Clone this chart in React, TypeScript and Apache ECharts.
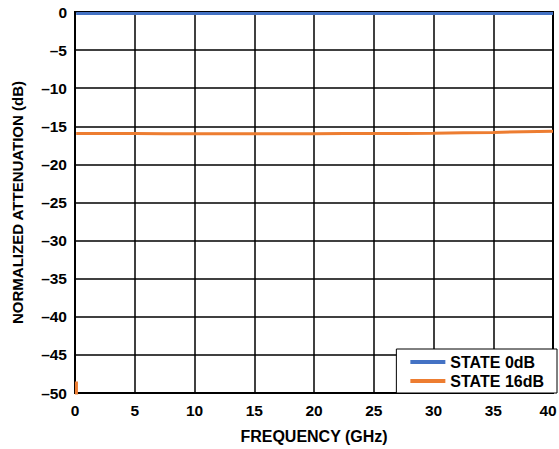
import React, { useEffect, useRef } from "react";
import * as echarts from "echarts";

const freqs = [0.1, 2.5, 5, 7.5, 10, 12.5, 15, 17.5, 20, 22.5, 25, 27.5, 30, 32.5, 35, 37.5, 40];
const state0 = [-0.2, -0.2, -0.2, -0.2, -0.2, -0.2, -0.2, -0.2, -0.2, -0.2, -0.2, -0.2, -0.2, -0.2, -0.2, -0.2, -0.2];
const state16 = [-15.95, -15.95, -15.95, -15.97, -15.98, -15.98, -15.98, -15.98, -15.97, -15.96, -15.95, -15.93, -15.9, -15.85, -15.8, -15.72, -15.65];
const lowFreqStub = [[0.12, -53], [0.12, -48.5]];
const xTicks = { min: 0, max: 40, interval: 5 };
const yTicks = { min: -50, max: 0, interval: 5 };

export default function App() {
  const ref = useRef<HTMLDivElement>(null);
  useEffect(() => {
    if (!ref.current) return;
    const chart = echarts.init(ref.current, null, { renderer: "svg" });
    const font = "Arial, 'Liberation Sans', sans-serif";
    const dash = (v: number) => String(v).replace("-", "\u2013");
    const labelStyle = { fontWeight: "bold", fontSize: 15.5, color: "#000", fontFamily: font };
    chart.setOption({
      animation: false,
      textStyle: { fontFamily: font },
      grid: {
        left: 75,
        right: 6,
        top: 12,
        bottom: 56,
        show: true,
        borderColor: "#000",
        borderWidth: 2,
        backgroundColor: "#fff",
        outerBoundsMode: "none",
        containLabel: false,
      },
      legend: {
        right: 2,
        bottom: 56,
        orient: "vertical",
        backgroundColor: "#fff",
        borderColor: "#000",
        borderWidth: 1,
        padding: [5, 13, 4, 14],
        itemGap: 3,
        itemWidth: 35,
        itemHeight: 4,
        icon: "rect",
        textStyle: { fontWeight: "bold", fontSize: 16, color: "#000", fontFamily: font },
        data: ["STATE 0dB", "STATE 16dB"],
      },
      xAxis: {
        type: "value",
        ...xTicks,
        name: "FREQUENCY (GHz)",
        nameLocation: "middle",
        nameGap: 35,
        nameTextStyle: { fontWeight: "bold", fontSize: 16, color: "#000", fontFamily: font },
        axisLine: { show: true, onZero: false, lineStyle: { color: "#000", width: 2 } },
        axisTick: { show: false },
        axisLabel: {
          ...labelStyle,
          margin: 9,
          formatter: (v: number) => (v === xTicks.max ? "{m|" + v + "}" : String(v)),
          rich: { m: { ...labelStyle, padding: [0, 10, 0, 0] } },
        },
        splitLine: { show: true, lineStyle: { color: "#000", width: 1.5 } },
      },
      yAxis: {
        type: "value",
        ...yTicks,
        name: "NORMALIZED ATTENUATION (dB)",
        nameLocation: "middle",
        nameGap: 50,
        nameTextStyle: { fontWeight: "bold", fontSize: 15, color: "#000", fontFamily: font },
        axisLine: { show: true, onZero: false, lineStyle: { color: "#000", width: 2 } },
        axisTick: { show: false },
        axisLabel: { ...labelStyle, margin: 8, formatter: dash },
        splitLine: { show: true, lineStyle: { color: "#000", width: 1.5 } },
      },
      series: [
        {
          name: "STATE 0dB",
          type: "line",
          showSymbol: false,
          color: "#4472C4",
          lineStyle: { width: 3, color: "#4472C4" },
          data: freqs.map((f, i) => [f, state0[i]]),
          z: 3,
        },
        {
          name: "STATE 16dB",
          type: "line",
          showSymbol: false,
          color: "#ED7D31",
          lineStyle: { width: 3, color: "#ED7D31" },
          data: freqs.map((f, i) => [f, state16[i]]),
          z: 3,
        },
        {
          name: "STATE 16dB",
          type: "line",
          showSymbol: false,
          color: "#ED7D31",
          lineStyle: { width: 3, color: "#ED7D31" },
          data: lowFreqStub,
          z: 3,
        },
      ],
    });
    return () => chart.dispose();
  }, []);
  return (
    <div
      ref={ref}
      style={{ position: "fixed", left: 0, top: 0, width: 559, height: 449, background: "#fff" }}
    />
  );
}
